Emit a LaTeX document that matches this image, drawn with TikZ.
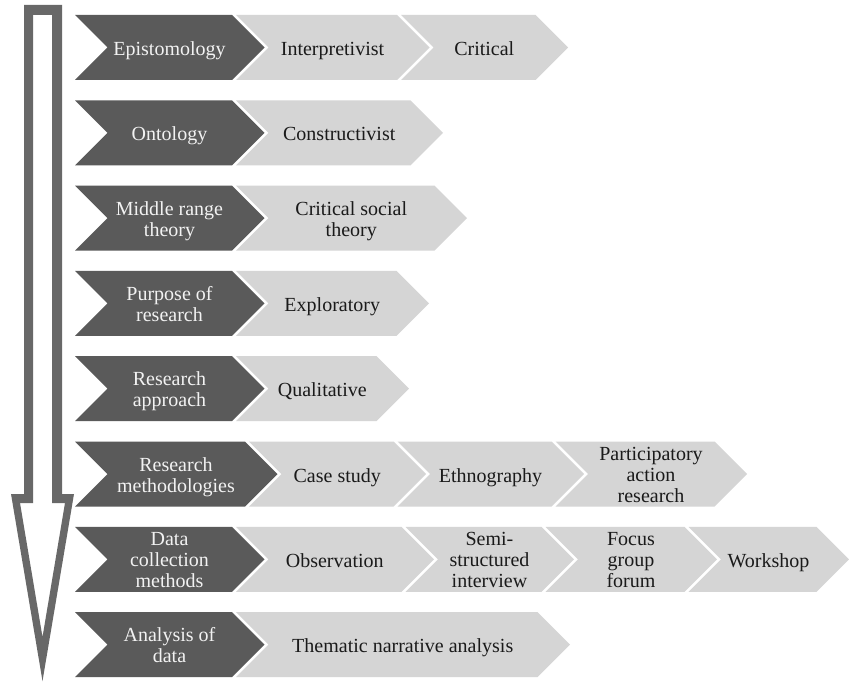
\documentclass[tikz,border=0pt]{standalone}
\usepackage{fontspec}
\setmainfont{Liberation Serif}
\definecolor{chevdark}{HTML}{5A5A5A}
\definecolor{chevlight}{HTML}{D5D5D5}
\definecolor{arrowgray}{HTML}{686868}
\definecolor{darktxt}{HTML}{F2F2F2}
\definecolor{lighttxt}{HTML}{1A1A1A}
\tikzset{
  chevd/.style={fill=chevdark},
  chevl/.style={fill=chevlight},
  chevtext/.style={align=center, inner sep=0pt, font=\fontsize{20}{21}\selectfont,
    execute at begin node=\strut, execute at end node=\strut},
  txtd/.style={chevtext, text=darktxt},
  txtl/.style={chevtext, text=lighttxt},
}
% #1 name, #2 left x, #3 flat right x, #4 centre y, #5 d/l, #6 text
\newcommand\chev[6]{%
  \fill[chev#5] (#2,#4-32.5) -- (#3,#4-32.5) -- (#3+32.5,#4) -- (#3,#4+32.5)
     -- (#2,#4+32.5) -- (#2+32.5,#4) -- cycle;
  \node[txt#5] (#1) at ({(#2+#3)/2+16},{#4+4}) {#6};
}
\begin{document}
\begin{tikzpicture}[x=1pt,y=-1pt]
\useasboundingbox (0,0) rectangle (849,682);
\fill[white] (0,0) rectangle (849,682);
% big downward arrow (outline)
\fill[arrowgray, even odd rule]
  (24,5) -- (62,5) -- (62,494) -- (74,494) -- (42.5,681) -- (11,494) -- (24,494) -- cycle
  (33,15) -- (52,15) -- (52,503) -- (65,503) -- (42.5,637) -- (20,503) -- (33,503) -- cycle;
% row 1
\chev{epi}{75}{232}{47.5}{d}{Epistomology}
\chev{interp}{236}{397}{47.5}{l}{Interpretivist}
\chev{crit}{401}{535.5}{47.5}{l}{Critical}
% row 2
\chev{onto}{75}{232}{132.8}{d}{Ontology}
\chev{constr}{236}{410.5}{132.8}{l}{Constructivist}
% row 3
\chev{mrt}{75}{232}{218.1}{d}{Middle range\\theory}
\chev{cst}{236}{434.5}{218.1}{l}{Critical social\\theory}
% row 4
\chev{purp}{75}{232}{303.4}{d}{Purpose of\\research}
\chev{expl}{236}{396.5}{303.4}{l}{Exploratory}
% row 5
\chev{appr}{75}{232}{388.7}{d}{Research\\approach}
\chev{qual}{236}{376.5}{388.7}{l}{Qualitative}
% row 6
\chev{meth}{75}{245}{474}{d}{Research\\methodologies}
\chev{case}{249}{393.5}{474}{l}{Case study}
\chev{ethno}{397.5}{551.5}{474}{l}{Ethnography}
\chev{par}{555.5}{714.5}{474}{l}{Participatory\\action\\research}
% row 7
\chev{dcm}{75}{232}{559.3}{d}{Data\\collection\\methods}
\chev{obs}{236}{401.5}{559.3}{l}{Observation}
\chev{semi}{405.5}{541.5}{559.3}{l}{Semi-\\structured\\interview}
\chev{focus}{545.5}{684.5}{559.3}{l}{Focus\\group\\forum}
\chev{work}{688.5}{816.5}{559.3}{l}{Workshop}
% row 8
\chev{anal}{75}{232}{644.6}{d}{Analysis of\\data}
\chev{them}{236}{537.5}{644.6}{l}{Thematic narrative analysis}
\end{tikzpicture}
\end{document}
